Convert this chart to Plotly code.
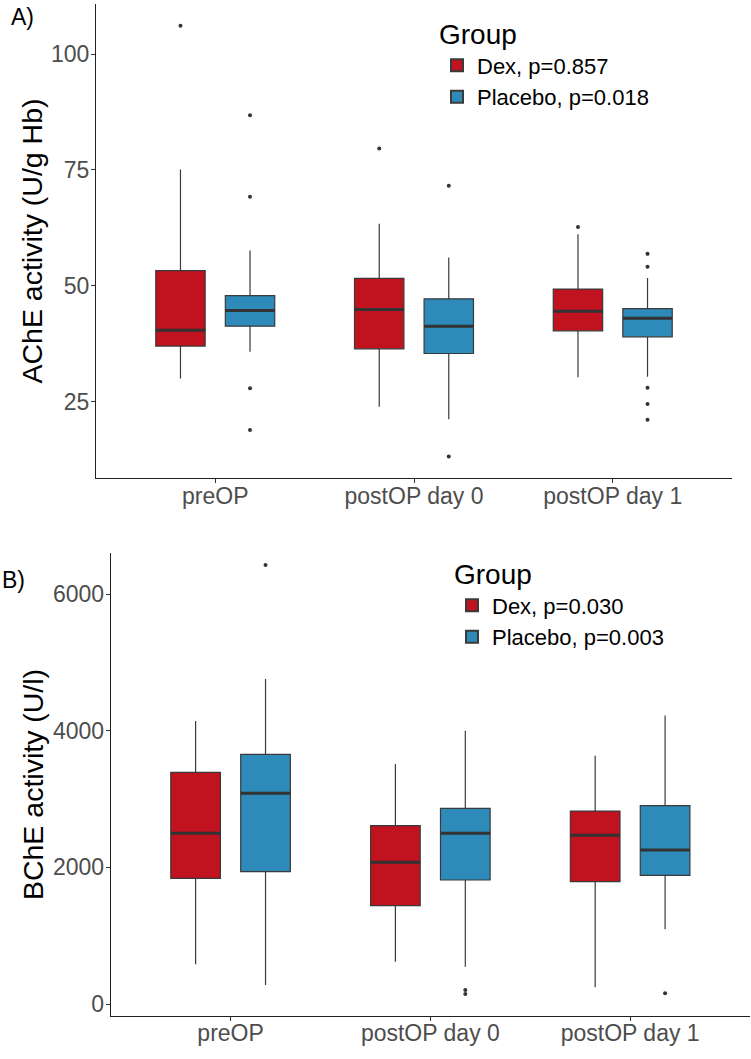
import plotly.graph_objects as go

categories = ["preOP", "postOP day 0", "postOP day 1"]

# Panel A: AChE activity (U/g Hb)
ache_dex_q1 = [37.0, 36.4, 40.3]
ache_dex_med = [40.4, 44.9, 44.5]
ache_dex_q3 = [53.3, 51.6, 49.3]
ache_dex_lo = [30.0, 23.9, 30.3]
ache_dex_hi = [75.1, 63.4, 61.1]
ache_dex_out = [[106.1], [79.6], [62.7]]

ache_pla_q1 = [41.3, 35.4, 39.0]
ache_pla_med = [44.7, 41.3, 43.0]
ache_pla_q3 = [47.9, 47.2, 45.1]
ache_pla_lo = [35.8, 21.2, 30.4]
ache_pla_hi = [57.6, 56.1, 51.7]
ache_pla_out = [[86.8, 69.2, 27.9, 18.9], [71.6, 13.2], [56.9, 54.1, 28.0, 24.5, 21.1]]

# Panel B: BChE activity (U/l)
bche_dex_q1 = [1839, 1439, 1790]
bche_dex_med = [2498, 2073, 2468]
bche_dex_q3 = [3390, 2610, 2824]
bche_dex_lo = [581, 620, 244]
bche_dex_hi = [4141, 3512, 3634]
bche_dex_out = [[], [], []]

bche_pla_q1 = [1937, 1815, 1883]
bche_pla_med = [3083, 2498, 2254]
bche_pla_q3 = [3654, 2863, 2902]
bche_pla_lo = [278, 546, 1093]
bche_pla_hi = [4756, 4000, 4224]
bche_pla_out = [[6424], [205, 146], [156]]

ache_labels = ["Dex, p=0.857", "Placebo, p=0.018"]
bche_labels = ["Dex, p=0.030", "Placebo, p=0.003"]
ache_yticks = [25, 50, 75, 100]
bche_yticks = [0, 2000, 4000, 6000]

RED = "#C1121F"
BLUE = "#2E8AB9"
FONT = "Liberation Sans, Arial, sans-serif"

W, H = 751, 1059

fig = go.Figure()


def add_group(q1, med, q3, lo, hi, out, name, color, og, xa, ya, legend):
    has_out = any(len(o) > 0 for o in out)
    fig.add_trace(go.Box(
        x=categories, y=out if has_out else None,
        q1=q1, median=med, q3=q3,
        lowerfence=lo, upperfence=hi,
        name=name, offsetgroup=og, legend=legend,
        fillcolor=color, line=dict(color="#3a3a3a", width=1.2),
        whiskerwidth=0, boxpoints="all" if has_out else False,
        jitter=0, pointpos=0,
        marker=dict(color="#333333", size=4, line=dict(width=0)),
        xaxis=xa, yaxis=ya, hoverinfo="skip",
    ))
    # thicker median line overlay (same statistics, median only)
    fig.add_trace(go.Box(
        x=categories, q1=med, median=med, q3=med,
        lowerfence=med, upperfence=med,
        offsetgroup=og, showlegend=False,
        fillcolor="rgba(0,0,0,0)", line=dict(color="#333333", width=3),
        whiskerwidth=0, boxpoints=False,
        xaxis=xa, yaxis=ya, hoverinfo="skip",
    ))


add_group(ache_dex_q1, ache_dex_med, ache_dex_q3, ache_dex_lo, ache_dex_hi, ache_dex_out,
          ache_labels[0], RED, "dex", "x", "y", "legend")
add_group(ache_pla_q1, ache_pla_med, ache_pla_q3, ache_pla_lo, ache_pla_hi, ache_pla_out,
          ache_labels[1], BLUE, "pla", "x", "y", "legend")
add_group(bche_dex_q1, bche_dex_med, bche_dex_q3, bche_dex_lo, bche_dex_hi, bche_dex_out,
          bche_labels[0], RED, "dex", "x2", "y2", "legend2")
add_group(bche_pla_q1, bche_pla_med, bche_pla_q3, bche_pla_lo, bche_pla_hi, bche_pla_out,
          bche_labels[1], BLUE, "pla", "x2", "y2", "legend2")

axis_common = dict(
    showline=True, linecolor="#222222", linewidth=1,
    ticks="outside", ticklen=4, tickwidth=1, tickcolor="#333333",
    tickfont=dict(family=FONT, size=23, color="#4d4d4d"),
    showgrid=False, zeroline=False,
)

legend_common = dict(
    font=dict(family=FONT, size=22, color="#000000"),
    bgcolor="rgba(0,0,0,0)", borderwidth=0,
    xanchor="left", yanchor="top", tracegroupgap=0,
    itemsizing="constant",
)

fig.update_layout(
    width=W, height=H,
    margin=dict(l=0, r=0, t=0, b=0),
    paper_bgcolor="white", plot_bgcolor="white",
    boxmode="group", boxgap=0.3, boxgroupgap=0.29,
    font=dict(family=FONT),
    xaxis=dict(domain=[96 / W, 732 / W], anchor="y", type="category",
               categoryorder="array", categoryarray=categories,
               range=[-0.6, 2.6], ticklabelstandoff=-7, **axis_common),
    yaxis=dict(domain=[(H - 478) / H, (H - 4) / H], anchor="x",
               range=[8.54, 110.8], tickvals=ache_yticks, ticklabelstandoff=-3,
               title=dict(text="AChE activity (U/g Hb)",
                          font=dict(family=FONT, size=28.5, color="#000000"),
                          standoff=0),
               **axis_common),
    xaxis2=dict(domain=[110.7 / W, 750 / W], anchor="y2", type="category",
                categoryorder="array", categoryarray=categories,
                range=[-0.6, 2.6], ticklabelstandoff=-7, **axis_common),
    yaxis2=dict(domain=[(H - 1015.7) / H, (H - 553.3) / H], anchor="x2",
                range=[-171, 6596], tickvals=bche_yticks, ticklabelstandoff=-3,
                title=dict(text="BChE activity (U/l)",
                           font=dict(family=FONT, size=28.5, color="#000000"),
                           standoff=0),
                **axis_common),
    legend=dict(x=437 / W, y=1 - 8 / H,
                title=dict(text="Group", font=dict(family=FONT, size=28, color="#000000")),
                **legend_common),
    legend2=dict(x=452 / W, y=1 - 548 / H,
                 title=dict(text="Group", font=dict(family=FONT, size=28, color="#000000")),
                 **legend_common),
    annotations=[
        dict(text="A)", x=9 / W, y=1 - 17 / H, xref="paper", yref="paper",
             xanchor="left", yanchor="middle", showarrow=False,
             font=dict(family=FONT, size=23, color="#000000")),
        dict(text="B)", x=0, y=1 - 580 / H, xref="paper", yref="paper",
             xanchor="left", yanchor="middle", showarrow=False,
             font=dict(family=FONT, size=23, color="#000000")),
    ],
)

fig.write_html("out.html", config={"displayModeBar": False},
               post_script="document.body.style.margin='0';")
